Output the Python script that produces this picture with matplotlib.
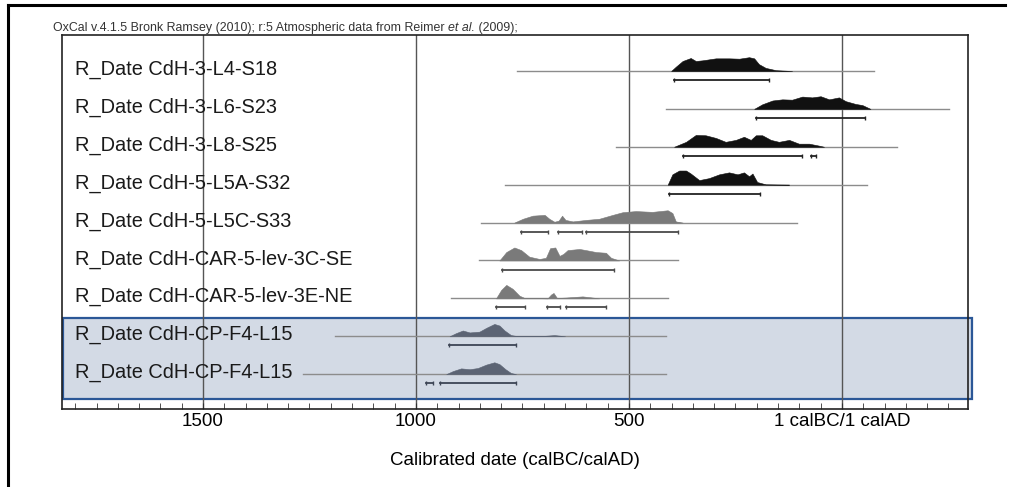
import matplotlib.pyplot as plt
from matplotlib.patches import Rectangle
from matplotlib.lines import Line2D
import matplotlib.transforms as mtransforms

plt.rcParams['font.family'] = ['Liberation Sans', 'DejaVu Sans']

labels = ['R_Date CdH-3-L4-S18', 'R_Date CdH-3-L6-S23', 'R_Date CdH-3-L8-S25',
          'R_Date CdH-5-L5A-S32', 'R_Date CdH-5-L5C-S33', 'R_Date CdH-CAR-5-lev-3C-SE',
          'R_Date CdH-CAR-5-lev-3E-NE', 'R_Date CdH-CP-F4-L15', 'R_Date CdH-CP-F4-L15']

# extent of the likelihood line (calBC, negative = AD)
line_from = [762, 412, 530, 792, 847, 851, 917, 1191, 1266]
line_to = [-75, -251, -129, -59, 105, 386, 409, 413, 413]

# distributions: dates (calBC) and heights
dist_bc = [
    [401, 390, 374, 355, 343, 327, 296, 265, 241, 218, 206, 195, 179, 155, 117],
    [206, 187, 163, 140, 117, 93, 70, 50, 30, 7, -9, -32, -48, -67],
    [394, 366, 343, 320, 296, 273, 249, 230, 214, 202, 187, 167, 148, 124, 101, 77, 54, 42],
    [409, 398, 382, 366, 355, 335, 312, 288, 265, 245, 230, 218, 210, 199, 179, 124],
    [769, 749, 726, 698, 687, 675, 665, 657, 649, 632, 601, 570, 538, 515, 484, 445, 409, 398, 390, 374],
    [804, 788, 769, 753, 734, 710, 695, 685, 673, 663, 654, 644, 616, 601, 577, 554, 542, 523],
    [812, 800, 788, 773, 757, 745, 726, 691, 683, 677, 669, 648, 609, 585, 570],
    [921, 906, 890, 874, 851, 835, 816, 804, 792, 777, 765, 700, 675, 650],
    [929, 913, 894, 874, 855, 835, 816, 804, 790, 777, 765],
]
dist_h = [
    [0, 3.7, 8.7, 11.3, 8.7, 9.3, 11, 11, 10.7, 12, 11, 6, 2.7, 0.7, 0],
    [0, 4, 7.3, 8.3, 8, 10.7, 10, 11, 8.3, 10, 6.7, 4.3, 3.3, 0],
    [0, 4.3, 10.3, 10, 7.7, 4.3, 6, 8.7, 6, 10, 10, 6, 4.3, 6, 2.7, 2.7, 1, 0],
    [0, 9, 12.3, 12.3, 9.7, 4, 5.7, 9, 10.7, 9, 10.7, 7.3, 9.7, 2.3, 0.3, 0],
    [0, 3.3, 6, 6.7, 3.3, 0.7, 1.7, 6, 2.3, 1, 2.3, 3.3, 6.7, 9, 10, 9.3, 10.7, 8.3, 1, 0],
    [0, 7.3, 11.3, 9, 3.3, 1.3, 2.3, 10.7, 11.3, 4, 5.7, 9, 10, 9, 7.3, 6.7, 2.3, 0],
    [0, 7.3, 11.7, 8.3, 2.3, 0.3, 0.3, 0, 3.3, 4.7, 0.3, 0.7, 1.7, 0.7, 0],
    [0, 2.7, 5, 3.3, 4, 7.3, 10.7, 9.3, 5, 1, 0.3, 0.3, 1, 0],
    [0, 2.7, 5, 4.3, 5.3, 8.3, 10.3, 8.7, 4.3, 1, 0],
]

# highest posterior density ranges (calBC)
ranges = [
    [(395, 171)],
    [(201, -54)],
    [(373, 93), (73, 60)],
    [(407, 193)],
    [(753, 691), (667, 610), (600, 386)],
    [(798, 534)],
    [(812, 745), (692, 663), (648, 554)],
    [(923, 765)],
    [(976, 960), (943, 765)],
]

fill_colors = ['#111111'] * 4 + ['#7a7a7a'] * 3 + ['#5c6474'] * 2
bar_colors = ['#222222'] * 4 + ['#4a4a4a'] * 3 + ['#3d4555'] * 2

fig = plt.figure(figsize=(10.12, 4.87), dpi=100)
ax = fig.add_axes([62 / 1012, 1 - 409 / 487, 906 / 1012, 374 / 487])

row_px = 37.9
hscale = 1.15
ax.set_xlim(-1831, 296)
ax.set_ylim(8.92, -0.95)

# highlighted group
trans = mtransforms.blended_transform_factory(ax.transAxes, ax.transData)
ax.add_patch(Rectangle((0.001, 6.52), 1.0034, 2.13, transform=trans,
                       facecolor='#d3dae5', edgecolor='#2b5797', lw=1.6,
                       clip_on=False, zorder=0.5))

for g in [-1500, -1000, -500, 0]:
    ax.axvline(g, color='#555555', lw=1.0, zorder=1)

for i, lab in enumerate(labels):
    ax.text(0.0143, i - 0.04, lab, transform=trans, fontsize=14.4,
            va='center', ha='left', color='#1a1a1a', zorder=4)
    ax.plot([-line_from[i], -line_to[i]], [i, i], color='#8c8c8c', lw=1.0, zorder=2)
    xs = [-b for b in dist_bc[i]]
    ys = [i - h * hscale / row_px for h in dist_h[i]]
    ax.fill_between(xs, i, ys, color=fill_colors[i], lw=0.4, zorder=3)
    for a, b in ranges[i]:
        ax.plot([-a, -b], [i + 0.24, i + 0.24], color=bar_colors[i], lw=1.3,
                marker='|', markersize=3, zorder=3)

ax.set_xticks([-1500, -1000, -500, 0])
ax.set_xticklabels(['1500', '1000', '500', '1 calBC/1 calAD'], fontsize=13.5)
ax.set_xticks(list(range(-1800, 296, 50)), minor=True)
ax.tick_params(axis='x', which='both', direction='in', length=4, pad=3, color='#333333')
ax.set_yticks([])
ax.set_xlabel('Calibrated date (calBC/calAD)', fontsize=13.5, labelpad=16)
for s in ax.spines.values():
    s.set_linewidth(1.2)
    s.set_color('#222222')

# header
t1 = fig.text(53 / 1012, 1 - 31 / 487,
              'OxCal v.4.1.5 Bronk Ramsey (2010); r:5 Atmospheric data from Reimer ',
              fontsize=8.9, color='#333333')
t2 = ax.annotate('et al.', xy=(1, 0), xycoords=t1, va='bottom', ha='left',
                 fontsize=8.9, style='italic', color='#333333')
ax.annotate(' (2009);', xy=(1, 0), xycoords=t2, va='bottom', ha='left',
            fontsize=8.9, color='#333333')

# page frame
fig.add_artist(Line2D([8 / 1012, 8 / 1012], [0, 1 - 5 / 487], color='black', lw=2.2))
fig.add_artist(Line2D([8 / 1012, 1005 / 1012], [1 - 5 / 487, 1 - 5 / 487], color='black', lw=2.2))

fig.savefig('out.png', dpi=100)
